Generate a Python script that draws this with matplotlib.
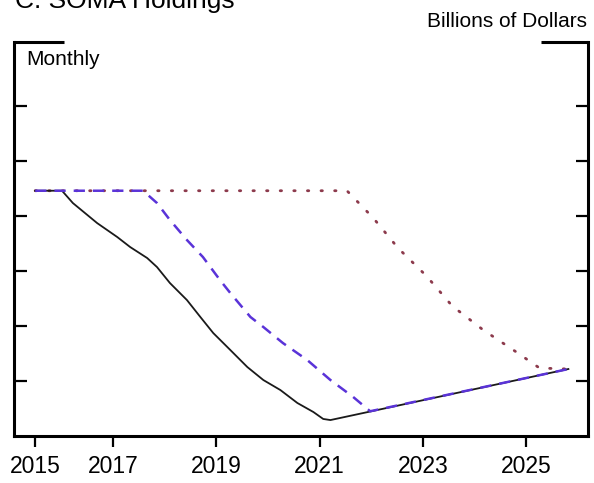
import matplotlib
matplotlib.use("Agg")
import matplotlib.pyplot as plt

plt.rcParams['font.family'] = ['Liberation Sans', 'DejaVu Sans']

# SOMA holdings paths, billions of dollars, by fractional year
actual_x = [2015.49, 2016.01, 2016.22, 2016.69, 2017.08, 2017.33, 2017.66, 2017.85,
            2018.10, 2018.43, 2018.69, 2018.94, 2019.27, 2019.60, 2019.91, 2020.24,
            2020.57, 2020.88, 2021.07, 2021.21, 2025.82]
actual_y = [4230, 4230, 4118, 3936, 3809, 3718, 3618, 3536,
            3391, 3236, 3082, 2936, 2782, 2627, 2509, 2418,
            2300, 2218, 2155, 2145, 2609]

early_x = [2015.49, 2017.58, 2017.85, 2018.10, 2018.43, 2018.74, 2019.07, 2019.27,
           2019.66, 2019.91, 2020.29, 2020.76, 2021.21, 2021.65, 2021.98, 2025.82]
early_y = [4230, 4230, 4118, 3964, 3782, 3627, 3418, 3300,
           3082, 2991, 2845, 2691, 2509, 2355, 2225, 2609]

late_x = [2015.49, 2021.53, 2022.04, 2022.52, 2023.07, 2023.57, 2024.17, 2024.81,
          2025.26, 2025.82]
late_y = [4230, 4230, 3982, 3709, 3455, 3182, 2964, 2764, 2618, 2609]

tick_pos = [2015.49, 2017, 2019, 2021, 2023, 2025]
tick_labels = ['2015', '2017', '2019', '2021', '2023', '2025']
y_ticks = [2500, 3000, 3500, 4000, 4500, 5000]

fig = plt.figure(figsize=(5.94, 4.83), dpi=100)
ax = fig.add_axes([0.0236, 0.0973, 0.9663, 0.8157])

ax.plot(actual_x, actual_y, color='#1a1a1a', lw=1.3, zorder=3)
ax.plot(early_x, early_y, color='#5a33d8', lw=1.8, dashes=(4.5, 3.2), zorder=4)
ax.plot(late_x, late_y, color='#8c3a4c', lw=2.0, dashes=(0.5, 4.4),
        dash_capstyle='round', zorder=2)

ax.set_xlim(2015.08, 2026.2)
ax.set_ylim(2000, 5582)

ax.set_xticks(tick_pos)
ax.set_xticklabels(tick_labels, fontsize=16.5)
ax.set_yticks(y_ticks)
ax.tick_params(axis='x', direction='out', length=8, width=1.6, pad=6)
ax.tick_params(axis='y', direction='in', length=9, width=1.6,
               left=True, right=True, labelleft=False, labelright=False)

for side in ['left', 'right', 'bottom']:
    ax.spines[side].set_linewidth(2.2)
ax.spines['top'].set_visible(False)

# broken top frame: short pieces at each corner
ax.plot([0, 0.087], [1, 1], transform=ax.transAxes, color='black', lw=2.2,
        clip_on=False, solid_capstyle='butt')
ax.plot([0.918, 1.0], [1, 1], transform=ax.transAxes, color='black', lw=2.2,
        clip_on=False, solid_capstyle='butt')

ax.text(0.022, 0.955, 'Monthly', transform=ax.transAxes, fontsize=15,
        ha='left', va='center')
fig.text(0.988, 0.955, 'Billions of Dollars', fontsize=15, ha='right', va='center')
fig.text(0.025, 0.984, 'C. SOMA Holdings', fontsize=19, ha='left', va='baseline')

fig.savefig('out.png', dpi=100)
